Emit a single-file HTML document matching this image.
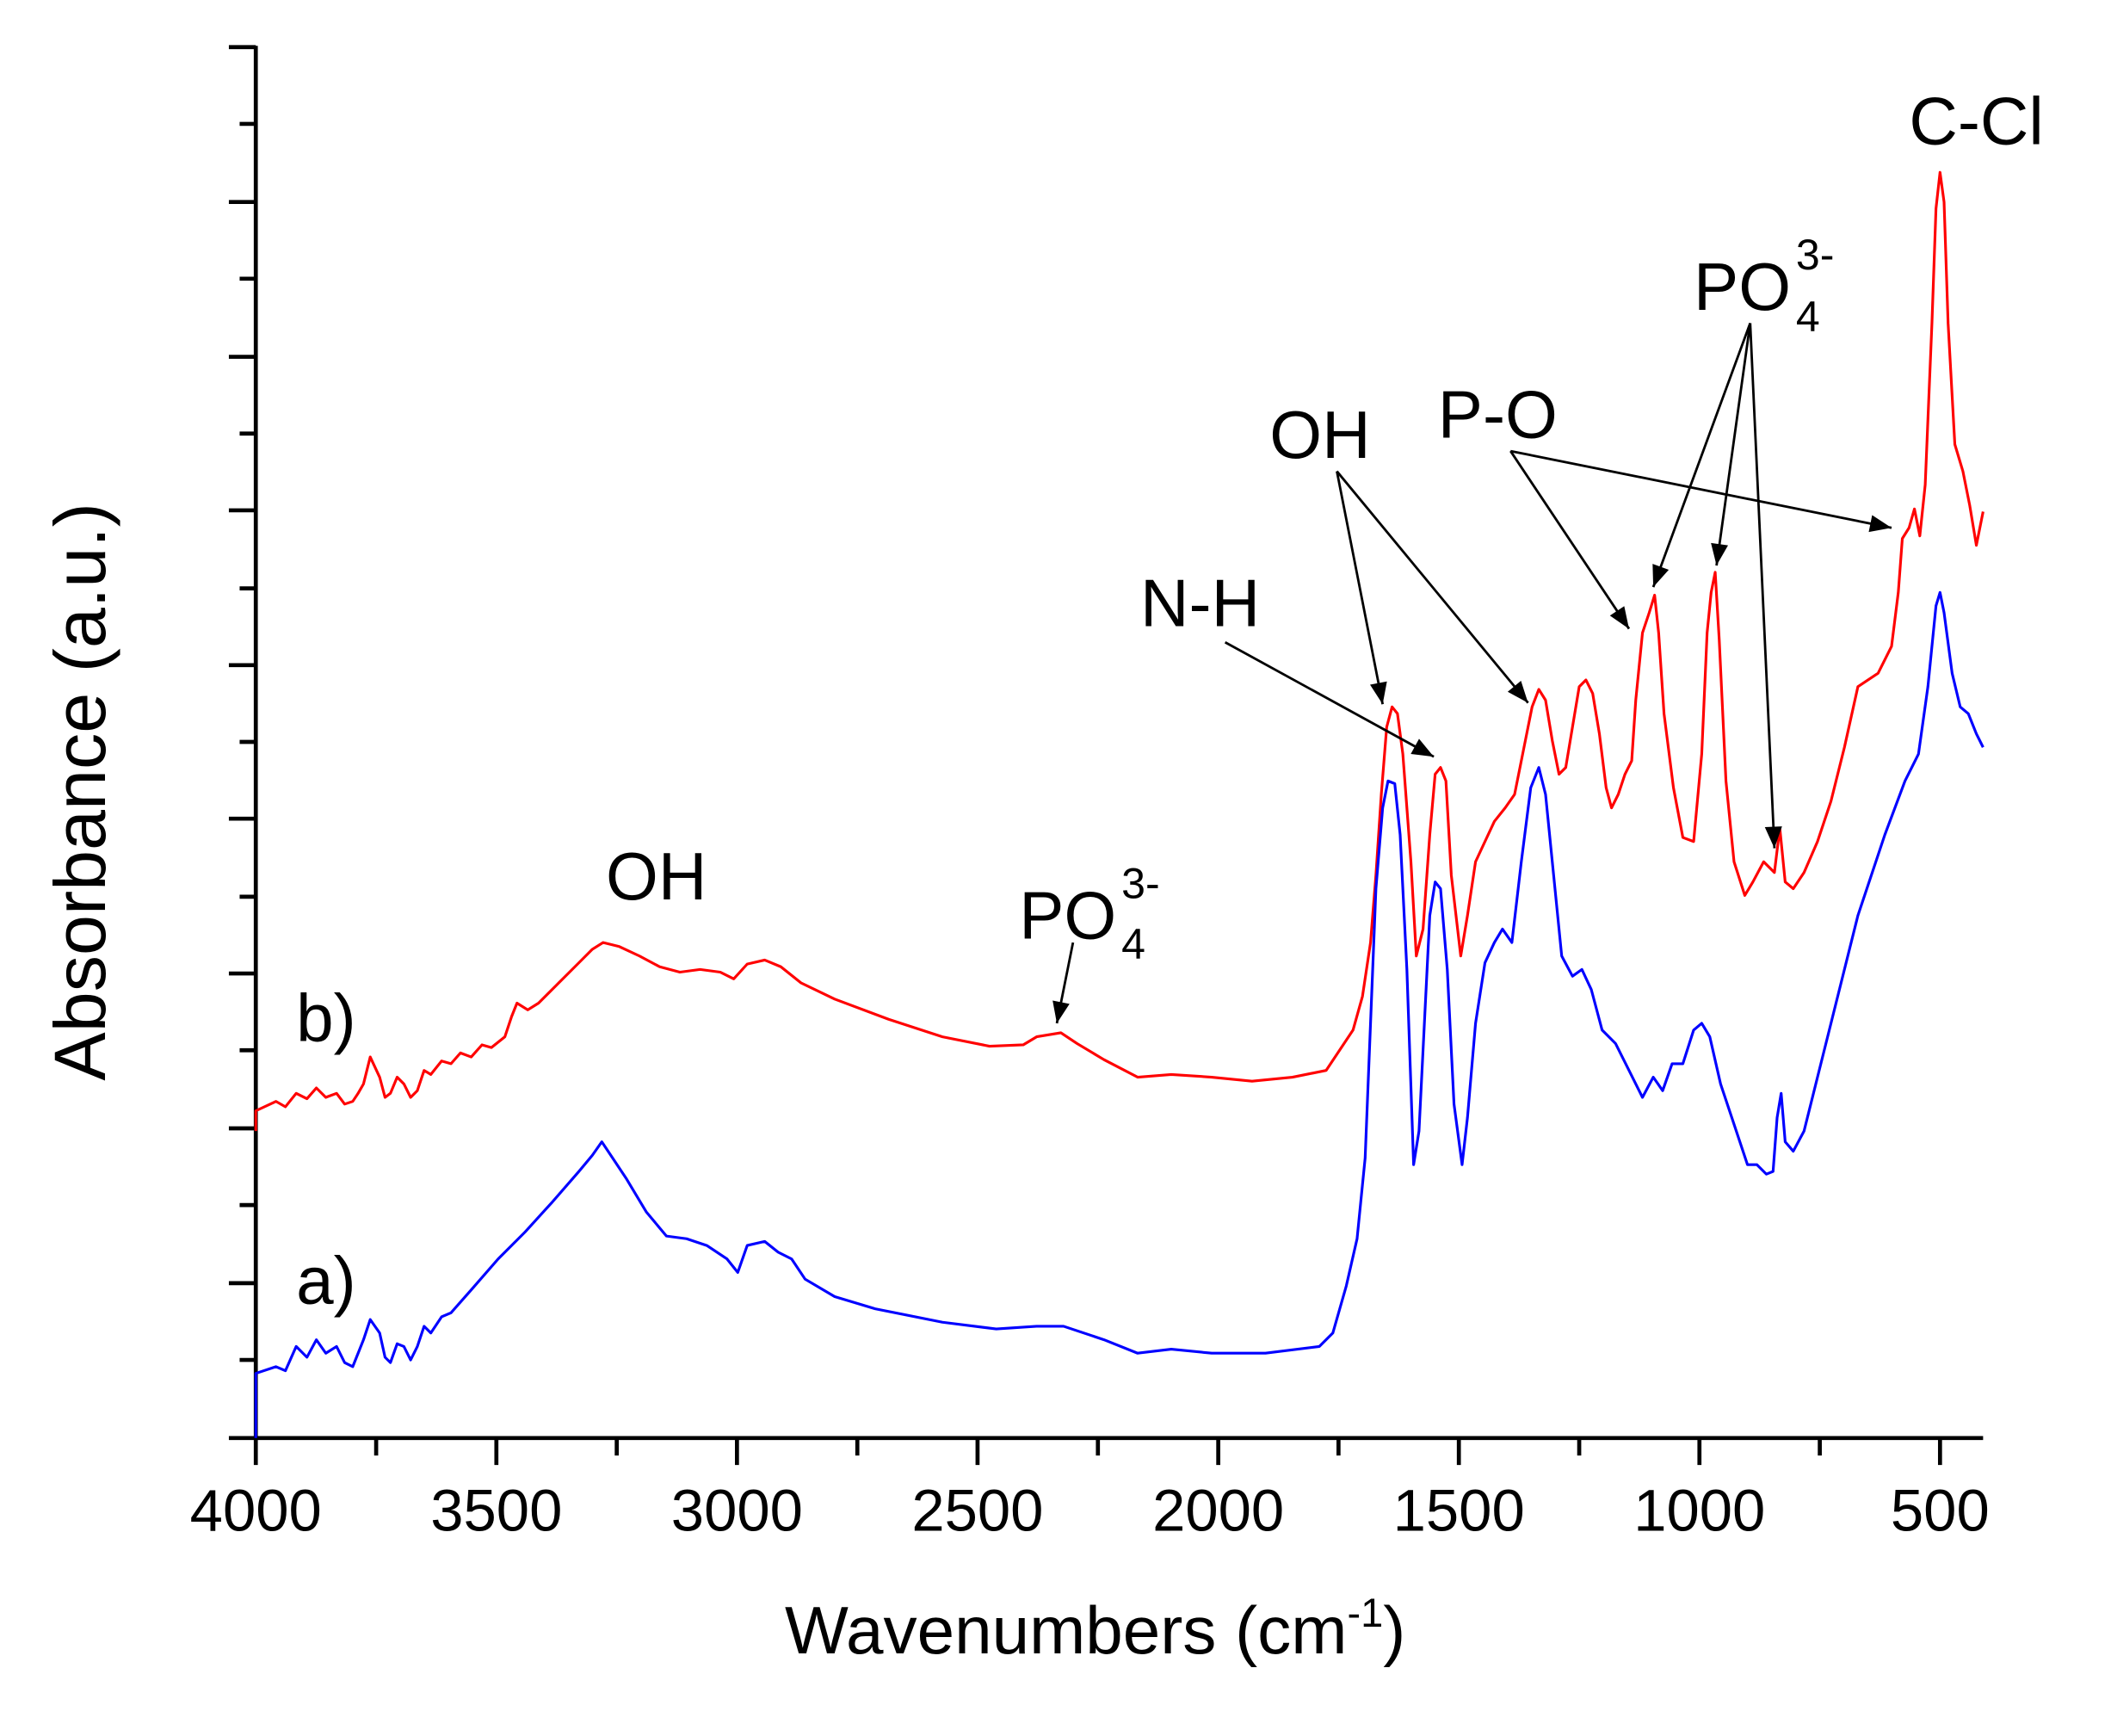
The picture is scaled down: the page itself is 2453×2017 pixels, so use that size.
<!DOCTYPE html>
<html><head><meta charset="utf-8"><style>
html,body{margin:0;padding:0;background:#fff;}
svg{display:block;}
text{font-family:"Liberation Sans",Arial,sans-serif;fill:#000;}
</style></head><body>
<svg width="2453" height="2017" viewBox="0 0 1568 1289.3" xmlns="http://www.w3.org/2000/svg">
<defs><marker id="ah" viewBox="0 0 10 10" refX="10" refY="5" markerWidth="18" markerHeight="16" markerUnits="userSpaceOnUse" orient="auto"><path d="M0,1 L10,5 L0,9 z" fill="#000"/></marker></defs>
<rect width="1568" height="1290" fill="#fff"/>
<g stroke="#000" stroke-width="3" fill="none">
<line x1="190" y1="34" x2="190" y2="1069"/>
<line x1="170" y1="1068" x2="1473" y2="1068"/>
<path d="M170,35H190M170,150H190M170,265H190M170,379H190M170,494H190M170,608H190M170,723H190M170,838H190M170,953H190
M178,92H190M178,207H190M178,322H190M178,437H190M178,551H190M178,666H190M178,780H190M178,895H190M178,1010H190"/>
<path d="M190,1068V1088M368.7,1068V1088M547.4,1068V1088M726.1,1068V1088M904.9,1068V1088M1083.6,1068V1088M1262.3,1068V1088M1441,1068V1088
M279.4,1068V1081M458.1,1068V1081M636.8,1068V1081M815.5,1068V1081M994.2,1068V1081M1173,1068V1081M1351.7,1068V1081"/>
</g>
<g font-size="44" text-anchor="middle">
<text x="190" y="1137">4000</text><text x="368.7" y="1137">3500</text><text x="547.4" y="1137">3000</text><text x="726.1" y="1137">2500</text><text x="904.9" y="1137">2000</text><text x="1083.6" y="1137">1500</text><text x="1262.3" y="1137">1000</text><text x="1441" y="1137">500</text>
</g>
<text x="583" y="1228" font-size="50">Wavenumbers (cm<tspan dy="-20" font-size="30">-1</tspan><tspan dy="20">)</tspan></text>
<text transform="translate(78,588) rotate(-90)" font-size="54" text-anchor="middle">Absorbance (a.u.)</text>
<polyline fill="none" stroke="#f00" stroke-width="2" stroke-linejoin="round" points="190,840 190,825 205,818 212,822 220,812 228,816 235,808 242,815 250,812 256,820 262,818 266,812 270,805 275,785 282,800 286,815 290,812 295,800 300,805 305,815 310,810 315,795 320,798 328,788 335,790 342,782 350,785 358,776 365,778 375,770 380,755 384,745 392,750 400,745 415,730 430,715 440,705 448,700 460,703 475,710 490,718 505,722 520,720 535,722 545,727 555,716 568,713 580,718 595,730 620,742 660,757 700,770 735,777 760,776 770,770 788,767 800,775 820,787 845,800 870,798 900,800 930,803 960,800 985,795 995,780 1005,765 1012,740 1018,700 1022,650 1026,590 1030,540 1034,525 1038,530 1042,560 1048,640 1052,710 1057,690 1062,620 1066,575 1070,570 1074,580 1078,650 1085,710 1090,680 1096,640 1103,625 1110,610 1118,600 1125,590 1132,555 1138,525 1143,512 1148,520 1153,550 1158,575 1163,570 1168,540 1173,510 1178,505 1183,515 1188,545 1193,585 1197,600 1202,590 1207,575 1212,565 1215,520 1220,470 1225,455 1229,442 1232,470 1236,530 1243,585 1250,622 1258,625 1264,560 1268,470 1271,440 1274,425 1277,475 1282,580 1288,640 1296,665 1302,655 1310,640 1318,648 1322,615 1326,655 1332,660 1340,648 1350,625 1360,595 1370,555 1380,510 1395,500 1405,480 1410,440 1413,400 1418,392 1422,378 1426,398 1430,360 1435,240 1438,155 1441,128 1444,150 1447,240 1452,330 1458,350 1463,375 1468,405 1473,380"/>
<polyline fill="none" stroke="#00f" stroke-width="2" stroke-linejoin="round" points="190,1068 190,1020 205,1015 212,1018 220,1000 228,1008 235,995 242,1005 250,1000 256,1012 262,1015 266,1005 270,995 275,980 282,990 286,1008 290,1012 295,998 300,1000 305,1010 310,1000 315,985 320,990 328,978 335,975 350,958 370,935 390,915 410,893 430,870 440,858 447,848 455,860 465,875 480,900 495,918 510,920 525,925 540,935 548,945 555,925 568,922 578,930 588,935 598,950 620,963 650,972 700,982 740,987 770,985 790,985 820,995 845,1005 870,1002 900,1005 940,1005 980,1000 990,990 1000,955 1008,920 1014,860 1018,760 1022,660 1027,600 1031,580 1036,582 1040,620 1045,720 1050,865 1054,840 1058,760 1062,680 1066,655 1070,660 1075,720 1080,820 1086,865 1090,830 1096,760 1103,715 1110,700 1116,690 1123,700 1130,640 1137,585 1143,570 1148,590 1155,660 1160,710 1168,725 1175,720 1182,735 1190,765 1200,775 1210,795 1220,815 1228,800 1235,810 1242,790 1250,790 1258,765 1264,760 1270,770 1278,805 1288,835 1298,865 1305,865 1312,872 1317,870 1320,830 1323,812 1326,848 1332,855 1340,840 1350,800 1360,760 1380,680 1400,620 1415,580 1425,560 1432,510 1438,450 1441,440 1444,455 1450,500 1456,525 1462,530 1468,545 1473,555"/>
<g font-size="50">
<text x="450" y="668">OH</text>
<text x="220" y="773">b)</text>
<text x="220" y="968">a)</text>
<text x="757" y="697">PO<tspan font-size="32" x="833" y="712">4</tspan><tspan font-size="32" x="833" y="667">3-</tspan></text>
<text x="847" y="465">N-H</text>
<text x="943" y="340">OH</text>
<text x="1068" y="325">P-O</text>
<text x="1258" y="230">PO<tspan font-size="32" x="1334" y="246">4</tspan><tspan font-size="32" x="1334" y="200">3-</tspan></text>
<text x="1418" y="107">C-Cl</text>
</g>
<g stroke="#000" stroke-width="1.8" fill="none" marker-end="url(#ah)">
<line x1="797" y1="700" x2="785" y2="760"/>
<line x1="910" y1="477" x2="1065" y2="562"/>
<line x1="993" y1="350" x2="1027" y2="523"/>
<line x1="993" y1="350" x2="1135" y2="522"/>
<line x1="1122" y1="335" x2="1210" y2="467"/>
<line x1="1122" y1="335" x2="1405" y2="392"/>
<line x1="1300" y1="240" x2="1228" y2="436"/>
<line x1="1300" y1="240" x2="1275" y2="420"/>
<line x1="1300" y1="240" x2="1318" y2="630"/>
</g>
</svg>
</body></html>
